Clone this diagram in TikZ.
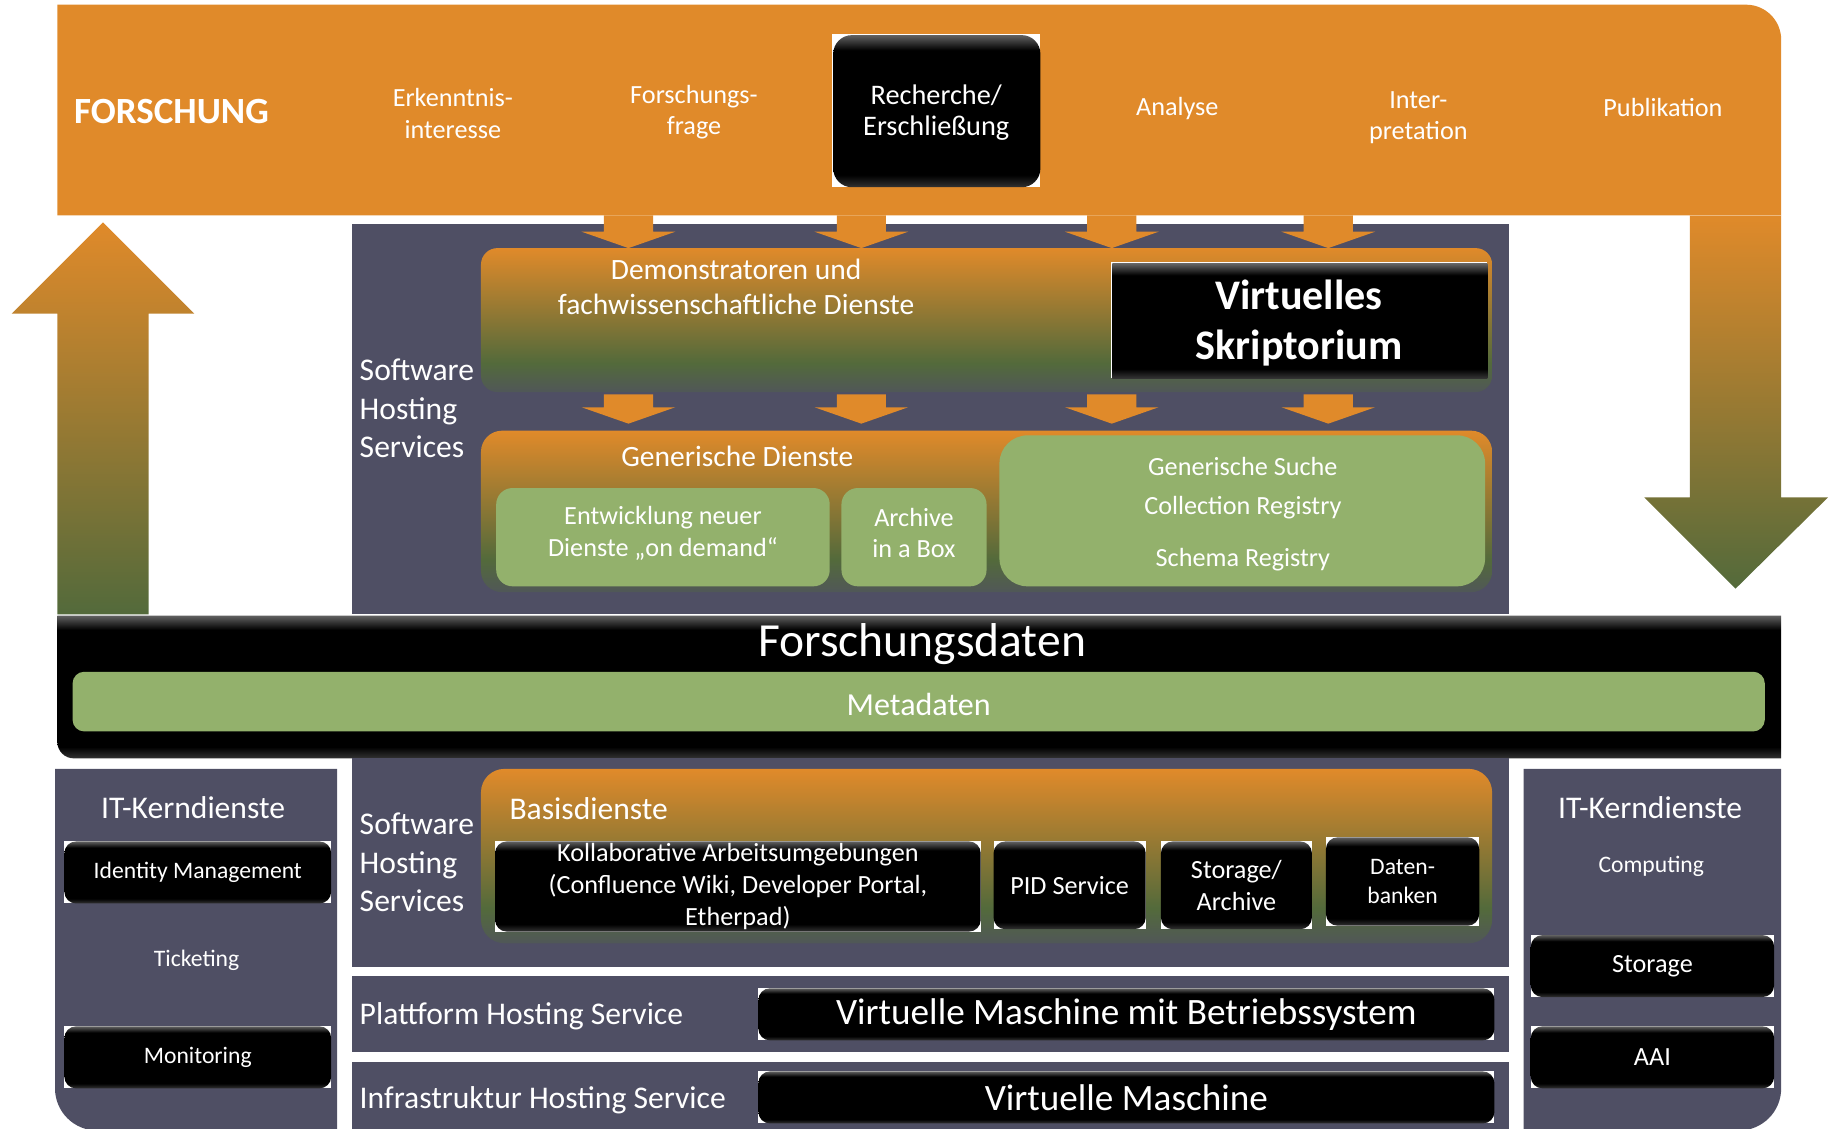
\documentclass[tikz,border=0pt]{standalone}
\usepackage{fontspec}
\setmainfont{Carlito}
\usetikzlibrary{calc}
\definecolor{org}{HTML}{E08A2A}
\definecolor{slate}{HTML}{4F4F64}
\definecolor{grn}{HTML}{93B16C}
\definecolor{dgrn}{HTML}{536A3B}
\pgfdeclareverticalshading{gloss}{100bp}{color(0bp)=(black!80); color(25bp)=(black!80); color(29bp)=(black); color(70bp)=(black); color(75bp)=(black!62); color(100bp)=(black!62)}
\pgfdeclareverticalshading{panelA}{100bp}{color(0bp)=(slate!70!dgrn); color(25bp)=(slate!70!dgrn); color(35bp)=(dgrn); color(75bp)=(org); color(100bp)=(org)}
\newcommand{\bbox}[7]{%
  \fill[white] (#2,#3) rectangle (#4,#5);
  \shade[shading=gloss, rounded corners=5pt] (#2,#3) rectangle (#4,#5);
  \node[lbl,#6] (#1) at ($(#2,#3)!0.5!(#4,#5)$) {#7};}
\newcommand{\sarrow}[3]{%
  \fill[org] (#1-21,#2) -- (#1+21,#2) -- (#1+21,#3-14) -- (#1+40,#3-14) -- (#1,#3) -- (#1-40,#3-14) -- (#1-21,#3-14) -- cycle;}
\begin{document}
\begin{tikzpicture}[x=0.5pt,y=-0.5pt,
  lbl/.style={text=white, align=center, inner sep=0pt},
  fA/.style={font=\fontsize{11.2}{13.5}\selectfont},
  fG/.style={font=\fontsize{12.6}{15}\selectfont},
  fB/.style={font=\fontsize{13.5}{16.5}\selectfont},
  fC/.style={font=\fontsize{15.9}{19}\selectfont},
  fD/.style={font=\bfseries\fontsize{18}{21.5}\selectfont},
  fE/.style={font=\fontsize{20.3}{24}\selectfont},
  fF/.style={font=\bfseries\fontsize{15.8}{19}\selectfont},
  fM/.style={font=\fontsize{13.7}{16}\selectfont},
  fR/.style={font=\fontsize{12.1}{13.3}\selectfont},
  fT/.style={font=\fontsize{10.1}{12}\selectfont}]
\useasboundingbox (0,0) rectangle (1568,964);

% big arrows
\shade[top color=org, bottom color=dgrn] (49,525) -- (49,268) -- (10,268) -- (88,190) -- (166,268) -- (127,268) -- (127,525) -- cycle;

% upper software panel
\fill[slate] (301,191) rectangle (1289,525);

% top band
\fill[org] (49,4) -- (1492,4) arc[start angle=-90, end angle=0, radius=30] -- (1522,184) -- (49,184) -- cycle;
\shade[top color=org, bottom color=dgrn] (1444,184) -- (1522,184) -- (1522,425) -- (1562,425) -- (1483,503) -- (1405,425) -- (1444,425) -- cycle;
\draw[org!60!white, line width=0.6pt] (1444,184) -- (1522,184);

\node[lbl,fF,anchor=west] (forschung) at (63,95.5) {FORSCHUNG};
\node[lbl,fA] (erk) at (387,97) {Erkenntnis-\\interesse};
\node[lbl,fA] (ffrage) at (593,96) {Forschungs-\\frage};
\fill[white] (711,29) rectangle (889,160);
\shade[shading=gloss, rounded corners=8pt] (712,30) rectangle (889,160);
\node[lbl,fR] (rech) at (800,96) {Recherche/\\Erschließung};
\node[lbl,fA] (analyse) at (1006,92.6) {Analyse};
\node[lbl,fA] (interp) at (1212,100.5) {Inter-\\pretation};
\node[lbl,fA] (publ) at (1421,91.7) {Publikation};

% small arrows row 1
\sarrow{537}{184}{212}
\sarrow{736}{184}{212}
\sarrow{950}{184}{212}
\sarrow{1135}{184}{212}

% Demonstratoren panel
\shade[shading=panelA, rounded corners=7pt] (411,212) rectangle (1275,335);
\fill[white] (949,224) rectangle (1271,323);
\shade[shading=gloss] (950.5,225.5) rectangle (1271,323);
\node[lbl,fD] (vs) at (1110,276) {Virtuelles\\Skriptorium};
\node[lbl,fG] (demo) at (629,245) {Demonstratoren und\\fachwissenschaftliche Dienste};

% small arrows row 2
\sarrow{537}{337}{362}
\sarrow{736}{337}{362}
\sarrow{950}{337}{362}
\sarrow{1135}{337}{362}

% Generische Dienste panel
\shade[shading=panelA, rounded corners=9pt] (411,368) rectangle (1275,506);
\node[lbl,fG] (gen) at (630,390) {Generische Dienste};
\fill[grn, rounded corners=7pt] (424,417) rectangle (709,501);
\node[lbl,fA] (entw) at (566.5,455.5) {Entwicklung neuer\\Dienste „on demand“};
\fill[grn, rounded corners=7pt] (719,417) rectangle (843,501);
\node[lbl,fA] (aib) at (781,455.5) {Archive\\in a Box};
\fill[grn, rounded corners=12pt] (854,372) rectangle (1269,501);
\node[lbl,fA] (gsuche) at (1062,399) {Generische Suche};
\node[lbl,fA] (colreg) at (1062,434) {Collection Registry};
\node[lbl,fA] (schreg) at (1062,478) {Schema Registry};
\node[lbl,fB,align=left,anchor=west] (shs1) at (307,349) {Software\\Hosting\\Services};

% Forschungsdaten band
\shade[shading=gloss] (49,526) -- (1522,526) -- (1522,648) -- (63,648) arc[start angle=90, end angle=180, radius=14] -- cycle;
\node[lbl,fE] (fdaten) at (788,550) {Forschungsdaten};
\fill[grn, rounded corners=5pt] (62,574) rectangle (1508,625);
\node[lbl,fM] (meta) at (785,602) {Metadaten};

% left IT panel
\fill[slate] (47,657) -- (288,657) -- (288,966) -- (83,966) arc[start angle=90, end angle=180, radius=36] -- cycle;
\node[lbl,fB] (itl) at (165,690) {IT-Kerndienste};
\bbox{idm}{55}{719}{283}{772}{fT}{Identity Management}
\node[lbl,fT] (tick) at (168,821) {Ticketing};
\bbox{mon}{55}{877}{283}{930}{fT}{Monitoring}

% right IT panel
\fill[slate] (1302,657) -- (1522,657) -- (1522,930) arc[start angle=0, end angle=90, radius=36] -- (1302,966) -- cycle;
\node[lbl,fB] (itr) at (1410,690) {IT-Kerndienste};
\node[lbl,fT] (comp) at (1411,740) {Computing};
\bbox{stor}{1308}{799}{1516}{852}{fA}{Storage}
\bbox{aai}{1308}{877}{1516}{930}{fA}{AAI}

% lower software panel
\fill[slate] (301,648) rectangle (1289,826);
\node[lbl,fB,align=left,anchor=west] (shs2) at (307,737) {Software\\Hosting\\Services};
\shade[shading=panelA, rounded corners=10pt] (411,657) rectangle (1275,806);
\node[lbl,fB,anchor=west] (basis) at (435,691) {Basisdienste};
\bbox{kollab}{423}{719}{838}{796}{fA}{Kollaborative Arbeitsumgebungen\\(Confluence Wiki, Developer Portal,\\Etherpad)}
\bbox{pid}{849}{719}{979}{794}{fA}{PID Service}
\bbox{stoarch}{992}{719}{1121}{794}{fA}{Storage/\\Archive}
\bbox{dbank}{1133}{715.5}{1264}{791}{fT}{Daten-\\banken}

% Plattform hosting
\fill[slate] (301,834) rectangle (1289,899);
\node[lbl,fB,anchor=west] (pfhs) at (307,868) {Plattform Hosting Service};
\bbox{vmb}{648}{844.5}{1277}{889}{fC}{Virtuelle Maschine mit Betriebssystem}

% Infrastruktur hosting
\fill[slate] (301,907.5) rectangle (1289,966);
\node[lbl,fB,anchor=west] (infhs) at (307,940) {Infrastruktur Hosting Service};
\bbox{vm}{648}{915.5}{1277}{960}{fC}{Virtuelle Maschine}
\end{tikzpicture}
\end{document}
